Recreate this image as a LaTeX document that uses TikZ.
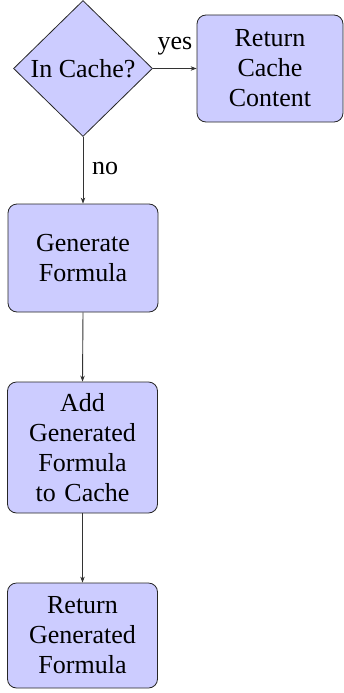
\documentclass[tikz,border=0pt]{standalone}
\usepackage{fontspec}
\setmainfont{LiberationSerif}[Extension=.ttf, UprightFont=*-Regular]
\usetikzlibrary{shapes.geometric,arrows.meta}
\begin{document}
\begin{tikzpicture}[x=1pt,y=1pt,
  every node/.style={font=\rmfamily\fontsize{26}{30}\selectfont},
  block/.style={draw=black!85, line width=0.8pt, fill=blue!20, rectangle,
    rounded corners=9pt, minimum width=150pt, text width=140pt, align=center, inner sep=0pt},
  decision/.style={draw=black!85, line width=0.8pt, fill=blue!20, diamond,
    minimum width=139pt, minimum height=136pt, inner sep=0pt, align=center},
  flow/.style={draw=black!80, line width=0.9pt, -{Stealth[length=6pt,width=4.5pt]}},
  lbl/.style={inner sep=0pt}]
\useasboundingbox (0,0) rectangle (343,-693);
\node[decision] (dec) at (83,-68.5) {In Cache?};
\node[block, minimum height=107pt, minimum width=146pt, text width=136pt] (cache) at (270,-68.5) {Return\\Cache\\Content};
\node[block, minimum height=108pt] (gen) at (83,-258) {Generate\\Formula};
\node[block, minimum height=131pt] (add) at (82.5,-447.5) {Add\\Generated\\Formula\\to Cache};
\node[block, minimum height=105pt] (ret) at (82.5,-635.5) {Return\\Generated\\Formula};
\draw[flow] (dec.east) -- (cache.west);
\draw[flow] (dec.south) -- (gen.north);
\draw[flow] (gen.south) -- (add.north);
\draw[flow] (add.south) -- (ret.north);
\node[lbl] (yes) at (175,-46) {yes};
\node[lbl] (no) at (105,-168) {no};
\end{tikzpicture}
\end{document}
